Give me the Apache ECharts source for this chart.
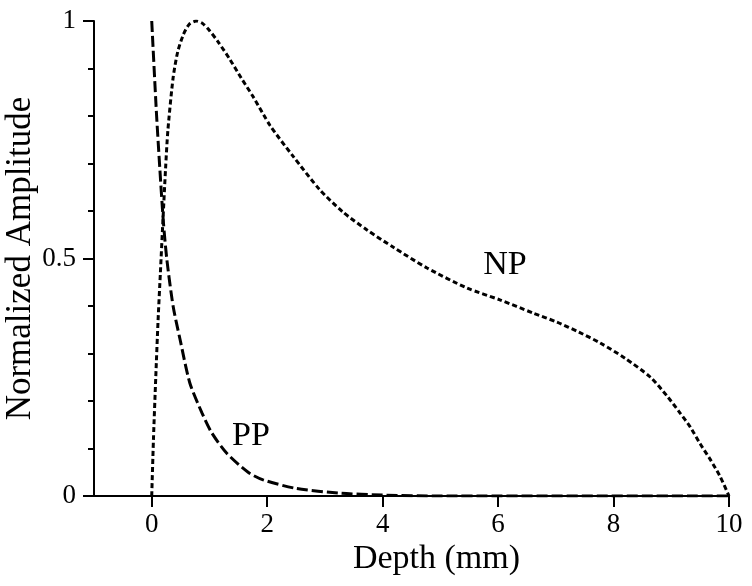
<!DOCTYPE html>
<html>
<head>
<meta charset="utf-8">
<script src="https://cdn.jsdelivr.net/npm/echarts@6/dist/echarts.min.js"></script>
<style>
html,body{margin:0;padding:0;background:#fff;}
#c{width:752px;height:586px;}
</style>
</head>
<body>
<div id="c"></div>
<script>
// Depth (mm) vs normalized amplitude
var npData = [
  [0,0],[0.03,0.12],[0.07,0.25],[0.11,0.37],[0.15,0.47],[0.19,0.57],[0.24,0.69],[0.28,0.77],
  [0.37,0.88],[0.45,0.935],[0.55,0.972],[0.65,0.993],[0.77,1.0],[0.88,0.995],[1.0,0.98],
  [1.15,0.956],[1.35,0.92],[1.55,0.88],[1.76,0.84],[2.05,0.78],[2.45,0.715],[2.91,0.645],
  [3.31,0.598],[3.73,0.56],[4.18,0.524],[4.77,0.48],[5.46,0.438],[6.03,0.413],[6.61,0.385],
  [7.02,0.366],[7.4,0.345],[7.77,0.322],[8.2,0.29],[8.64,0.25],[8.93,0.21],[9.15,0.175],
  [9.33,0.145],[9.5,0.11],[9.68,0.076],[9.85,0.04],[10,0]
];
var ppData = [
  [0,1],[0.08,0.81],[0.14,0.69],[0.2,0.58],[0.26,0.50],[0.37,0.40],[0.49,0.33],[0.66,0.238],
  [0.87,0.175],[1.04,0.133],[1.3,0.09],[1.67,0.05],[1.93,0.034],[2.5,0.016],[3.26,0.006],
  [4,0.002],[5,0],[10,0]
];
var xTicks = [0,2,4,6,8,10];
var curveLabels = [
  {name:'NP', value:[6.12,0.486]},
  {name:'PP', value:[1.72,0.126]}
];

var font = 'Liberation Serif';
var chart = echarts.init(document.getElementById('c'));
chart.setOption({
  animation:false,
  backgroundColor:'#fff',
  grid:{left:94,right:23,top:21,bottom:90,containLabel:false,outerBoundsMode:'none'},
  xAxis:{
    type:'value', min:-1, max:10,
    name:'Depth (mm)', nameLocation:'middle', nameGap:46, nameMoveOverlap:false,
    nameTextStyle:{fontFamily:font,fontSize:34,color:'#000',padding:[0,0,0,50]},
    axisLine:{show:true,onZero:false,lineStyle:{color:'#000',width:2}},
    axisTick:{show:true,length:11,lineStyle:{color:'#000',width:2},customValues:xTicks},
    axisLabel:{fontFamily:font,fontSize:27,color:'#000',margin:15,customValues:xTicks},
    splitLine:{show:false}
  },
  yAxis:{
    type:'value', min:0, max:1, interval:0.5,
    name:'Normalized Amplitude', nameLocation:'middle', nameGap:56, nameMoveOverlap:false,
    nameTextStyle:{fontFamily:font,fontSize:35,color:'#000'},
    axisLine:{show:true,onZero:false,lineStyle:{color:'#000',width:2}},
    axisTick:{show:true,length:11,lineStyle:{color:'#000',width:2}},
    minorTick:{show:true,splitNumber:5,length:6,lineStyle:{color:'#000',width:2}},
    axisLabel:{fontFamily:font,fontSize:27,color:'#000',margin:18},
    splitLine:{show:false}
  },
  series:[
    {type:'line',name:'NP',data:npData,symbol:'none',smooth:0.25,
     lineStyle:{color:'#000',width:3,type:[5,3]},z:3},
    {type:'line',name:'PP',data:ppData,symbol:'none',smooth:0.25,
     lineStyle:{color:'#000',width:3,type:[11,4]},z:3},
    {type:'scatter',data:curveLabels,symbolSize:0,silent:true,
     itemStyle:{color:'#000',opacity:1},
     label:{show:true,position:'inside',formatter:function(p){return p.name;},
       fontFamily:font,fontSize:34,color:'#000',textBorderWidth:0,opacity:1}}
  ]
});
</script>
</body>
</html>
